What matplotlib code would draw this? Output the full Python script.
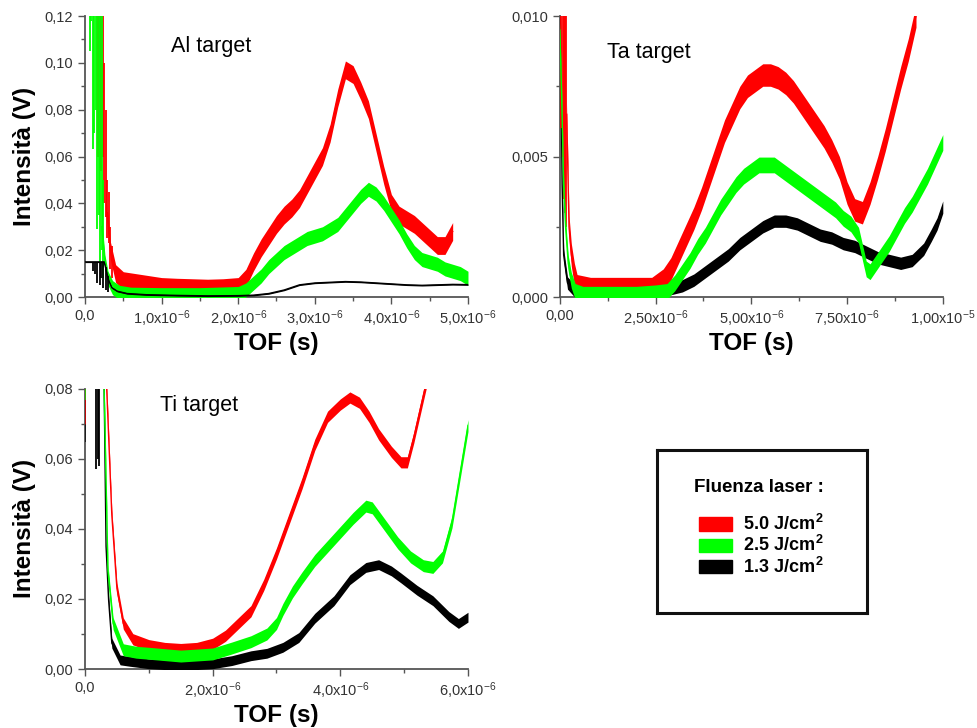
import numpy as np
import matplotlib
matplotlib.use('Agg')
from matplotlib import pyplot as plt
from matplotlib.ticker import AutoMinorLocator
from matplotlib.patches import Rectangle

plt.rcParams['font.family'] = ['Liberation Sans', 'DejaVu Sans']
plt.rcParams['mathtext.fontset'] = 'custom'
plt.rcParams['mathtext.rm'] = 'Liberation Sans'
plt.rcParams['mathtext.bf'] = 'Liberation Sans:bold'
plt.rcParams['mathtext.default'] = 'regular'

RED, GREEN, BLACK = '#ff0000', '#00ff00', '#000000'

# ---------------- Al target (x in microseconds, y in V) ----------------
al_red_x = [0.29, 0.33, 0.40, 0.50, 0.70, 1.0, 1.2, 1.4, 1.6, 1.8, 2.0, 2.1, 2.2, 2.3, 2.4, 2.5,
            2.6, 2.7, 2.8, 2.9, 3.0, 3.1, 3.2, 3.3, 3.4, 3.5, 3.6, 3.7, 3.8, 3.9, 4.0, 4.1, 4.2,
            4.3, 4.4, 4.5, 4.6, 4.7, 4.8]
al_red_y = [0.036, 0.020, 0.010, 0.007, 0.006, 0.0045, 0.0042, 0.004, 0.0038, 0.004, 0.0045, 0.008,
            0.015, 0.021, 0.026, 0.031, 0.035, 0.038, 0.042, 0.048, 0.054, 0.060, 0.070, 0.085,
            0.097, 0.095, 0.088, 0.080, 0.066, 0.052, 0.040, 0.035, 0.033, 0.031, 0.028, 0.025,
            0.022, 0.022, 0.028]
al_red_spread = 0.0038
al_red_spike_x = [0.17, 0.19, 0.21, 0.23, 0.25, 0.27, 0.29, 0.31, 0.33, 0.35]
al_red_spike_lo = [0.060, 0.055, 0.054, 0.060, 0.040, 0.034, 0.025, 0.023, 0.012, 0.008]
al_red_spike_hi = [0.13, 0.13, 0.13, 0.13, 0.10, 0.08, 0.05, 0.045, 0.03, 0.022]

al_green_x = [0.22, 0.26, 0.30, 0.36, 0.45, 0.6, 1.0, 1.5, 2.0, 2.1, 2.2, 2.3, 2.4, 2.5, 2.6, 2.7,
              2.8, 2.9, 3.0, 3.1, 3.2, 3.3, 3.4, 3.5, 3.6, 3.7, 3.8, 3.9, 4.0, 4.1, 4.2, 4.3, 4.4,
              4.5, 4.6, 4.7, 4.8, 4.9, 5.0]
al_green_y = [0.030, 0.015, 0.008, 0.004, 0.002, 0.0012, 0.001, 0.001, 0.0015, 0.003, 0.006, 0.009,
              0.013, 0.016, 0.019, 0.021, 0.023, 0.025, 0.026, 0.027, 0.029, 0.031, 0.035, 0.039,
              0.043, 0.046, 0.044, 0.040, 0.035, 0.030, 0.024, 0.019, 0.016, 0.015, 0.014, 0.012,
              0.011, 0.010, 0.008]
al_green_spread = 0.003
al_green_spike_x = [0.065, 0.08, 0.10, 0.12, 0.14, 0.16, 0.18, 0.20, 0.22, 0.24]
al_green_spike_lo = [0.105, 0.118, 0.063, 0.070, 0.080, 0.029, 0.035, 0.015, 0.020, 0.008]
al_green_spike_hi = [0.13, 0.13, 0.13, 0.13, 0.13, 0.13, 0.13, 0.13, 0.13, 0.05]

al_black_x = [0.0, 0.25, 0.28, 0.31, 0.35, 0.42, 0.55, 0.8, 1.2, 1.6, 2.0, 2.2, 2.4, 2.6, 2.8,
              3.0, 3.2, 3.4, 3.6, 3.8, 4.0, 4.2, 4.4, 4.6, 4.8, 5.0]
al_black_y = [0.015, 0.015, 0.011, 0.007, 0.004, 0.0025, 0.0015, 0.001, 0.0007, 0.0005, 0.0006,
              0.0008, 0.0015, 0.003, 0.0052, 0.006, 0.0063, 0.0066, 0.0064, 0.006, 0.0056,
              0.0052, 0.005, 0.0052, 0.0054, 0.0053]
al_black_spread = 0.0003
al_black_spike_x = [0.10, 0.13, 0.16, 0.19, 0.21, 0.24, 0.27, 0.30]
al_black_spike_lo = [0.011, 0.010, 0.006, 0.005, 0.008, 0.004, 0.003, 0.002]
al_black_spike_hi = [0.015, 0.015, 0.015, 0.015, 0.015, 0.015, 0.013, 0.009]

# ---------------- Ta target ----------------
ta_red_x = [0.18, 0.24, 0.30, 0.38, 0.45, 0.8, 1.2, 1.6, 2.0, 2.4, 2.7, 2.9, 3.1, 3.3, 3.5, 3.7,
            3.9, 4.1, 4.3, 4.5, 4.7, 4.9, 5.1, 5.3, 5.5, 5.7, 5.9, 6.1, 6.3, 6.5, 6.7, 6.9, 7.1,
            7.3, 7.5, 7.7, 7.9, 8.1, 8.3, 8.5, 8.7, 8.9, 9.1, 9.3]
ta_red_y = [0.0065, 0.0025, 0.0015, 0.0008, 0.0004, 0.0003, 0.0003, 0.0003, 0.0003, 0.0003,
            0.0006, 0.001, 0.0016, 0.0022, 0.0028, 0.0035, 0.0043, 0.0051, 0.0059, 0.0065,
            0.0071, 0.0075, 0.0077, 0.0079, 0.0079, 0.0078, 0.0076, 0.0073, 0.0069, 0.0065,
            0.0061, 0.0057, 0.0052, 0.0046, 0.0037, 0.0031, 0.0030, 0.0037, 0.0046, 0.0056,
            0.0067, 0.0078, 0.0088, 0.0100]
ta_red_spread = 0.0004
ta_red_spike_x = [0.04, 0.07, 0.10, 0.13, 0.16]
ta_red_spike_lo = [0.006, 0.005, 0.0035, 0.003, 0.0025]
ta_red_spike_hi = [0.011, 0.011, 0.011, 0.011, 0.011]

ta_green_x = [0.0, 0.05, 0.10, 0.15, 0.22, 0.3, 0.4, 0.6, 1.0, 1.5, 2.0, 2.5, 2.8, 3.0, 3.2, 3.4,
              3.6, 3.8, 4.0, 4.2, 4.4, 4.6, 4.8, 5.0, 5.2, 5.4, 5.6, 5.8, 6.0, 6.2, 6.4, 6.6,
              6.8, 7.0, 7.2, 7.4, 7.6, 7.8, 7.9, 8.0, 8.1, 8.2, 8.4, 8.6, 8.8, 9.0, 9.2, 9.4,
              9.6, 9.8, 10.0]
ta_green_y = [0.0095, 0.007, 0.004, 0.0025, 0.0012, 0.0006, 0.0002, 0.0001, 0.0001, 0.0001,
              0.0001, 0.00015, 0.0002, 0.0005, 0.0009, 0.0013, 0.0018, 0.0022, 0.0027, 0.0032,
              0.0036, 0.0040, 0.0043, 0.0045, 0.0047, 0.0047, 0.0047, 0.0045, 0.0043, 0.0041,
              0.0039, 0.0037, 0.0035, 0.0033, 0.0031, 0.0028, 0.0026, 0.0022, 0.0016, 0.0010,
              0.0009, 0.0011, 0.0015, 0.0019, 0.0024, 0.0029, 0.0033, 0.0038, 0.0043, 0.0049,
              0.0055]
ta_green_spread = 0.00028

ta_black_x = [0.0, 0.03, 0.06, 0.1, 0.2, 0.4, 0.8, 1.5, 2.0, 2.5, 2.9, 3.2, 3.5, 3.8, 4.1, 4.4,
              4.7, 5.0, 5.3, 5.6, 5.9, 6.2, 6.5, 6.8, 7.1, 7.4, 7.7, 8.0, 8.3, 8.6, 8.9, 9.2,
              9.5, 9.7, 9.85, 10.0]
ta_black_y = [0.012, 0.008, 0.004, 0.0015, 0.0005, 0.0002, 0.0002, 0.0002, 0.0002, 0.0002,
              0.0003, 0.0004, 0.0006, 0.0009, 0.0012, 0.0015, 0.0019, 0.0022, 0.0025, 0.0027,
              0.0027, 0.0026, 0.0024, 0.0022, 0.0021, 0.0019, 0.0018, 0.0016, 0.0014, 0.0013,
              0.0012, 0.0013, 0.0017, 0.0022, 0.0026, 0.0032]
ta_black_spread = 0.00022

# ---------------- Ti target ----------------
ti_red_x = [0.0, 0.005, 0.30, 0.34, 0.42, 0.50, 0.60, 0.75, 1.0, 1.25, 1.5, 1.75, 2.0, 2.2, 2.4,
            2.6, 2.8, 3.0, 3.2, 3.4, 3.6, 3.8, 4.0, 4.15, 4.3, 4.45, 4.6, 4.8, 4.95, 5.05, 5.15,
            5.25, 5.35]
ti_red_y = [0.070, 0.15, 0.15, 0.080, 0.044, 0.023, 0.013, 0.0085, 0.0068, 0.006, 0.0057, 0.006,
            0.0072, 0.0095, 0.013, 0.0165, 0.024, 0.033, 0.043, 0.053, 0.064, 0.072, 0.0755,
            0.0775, 0.076, 0.072, 0.067, 0.062, 0.059, 0.059, 0.066, 0.074, 0.082]
ti_red_spread = 0.0016

ti_green_x = [0.0, 0.005, 0.27, 0.30, 0.36, 0.44, 0.6, 0.8, 1.0, 1.5, 2.0, 2.3, 2.6, 2.85, 3.0,
              3.1, 3.25, 3.4, 3.6, 3.8, 4.0, 4.2, 4.4, 4.5, 4.7, 4.9, 5.1, 5.3, 5.45, 5.6, 5.75,
              5.85, 5.95, 6.0]
ti_green_y = [0.077, 0.15, 0.15, 0.080, 0.028, 0.013, 0.0055, 0.0048, 0.0045, 0.0037, 0.0043,
              0.006, 0.0078, 0.010, 0.013, 0.017, 0.022, 0.026, 0.031, 0.035, 0.039, 0.043,
              0.0465, 0.046, 0.041, 0.036, 0.032, 0.0295, 0.029, 0.032, 0.042, 0.053, 0.064,
              0.0695]
ti_green_spread = 0.0017

ti_black_x = [0.0, 0.005, 0.27, 0.30, 0.33, 0.37, 0.42, 0.55, 0.7, 1.0, 1.5, 2.0, 2.3, 2.6,
              2.85, 3.1, 3.35, 3.6, 3.9, 4.15, 4.4, 4.6, 4.8, 4.95, 5.2, 5.45, 5.7, 5.85, 6.0]
ti_black_y = [0.065, 0.15, 0.15, 0.080, 0.035, 0.0197, 0.0074, 0.0026, 0.0022, 0.0015, 0.001,
              0.0015, 0.0024, 0.0038, 0.0045, 0.0062, 0.009, 0.0145, 0.0195, 0.0255, 0.029,
              0.0298, 0.028, 0.026, 0.0225, 0.0195, 0.015, 0.013, 0.0148]
ti_black_spread = 0.0014
ti_black_spike_x = [0.18, 0.20, 0.22]
ti_black_spike_lo = [0.057, 0.060, 0.058]
ti_black_spike_hi = [0.09, 0.09, 0.09]

# ticks / labels
al_xticks = [0, 1, 2, 3, 4, 5]
al_xticklabels = ['0,0', '1,0x10$^{-6}$', '2,0x10$^{-6}$', '3,0x10$^{-6}$', '4,0x10$^{-6}$', '5,0x10$^{-6}$']
al_yticks = [0, 0.02, 0.04, 0.06, 0.08, 0.10, 0.12]
al_yticklabels = ['0,00', '0,02', '0,04', '0,06', '0,08', '0,10', '0,12']

ta_xticks = [0, 2.5, 5, 7.5, 10]
ta_xticklabels = ['0,00', '2,50x10$^{-6}$', '5,00x10$^{-6}$', '7,50x10$^{-6}$', '1,00x10$^{-5}$']
ta_yticks = [0, 0.005, 0.010]
ta_yticklabels = ['0,000', '0,005', '0,010']

ti_xticks = [0, 2, 4, 6]
ti_xticklabels = ['0,0', '2,0x10$^{-6}$', '4,0x10$^{-6}$', '6,0x10$^{-6}$']
ti_yticks = [0, 0.02, 0.04, 0.06, 0.08]
ti_yticklabels = ['0,00', '0,02', '0,04', '0,06', '0,08']

legend_labels = [r'$\mathbf{5.0\ J/cm^2}$', r'$\mathbf{2.5\ J/cm^2}$', r'$\mathbf{1.3\ J/cm^2}$']
legend_colors = [RED, GREEN, BLACK]


def band(ax, x, y, spread, color, z):
    x = np.array(x)
    y = np.array(y)
    ax.fill_between(x, y - spread, y + spread, color=color, lw=0, zorder=z)
    ax.plot(x, y, color=color, lw=1.0, zorder=z)


def spikes(ax, x, lo, hi, color, z):
    ax.vlines(x, lo, hi, color=color, lw=1.3, zorder=z)


def style(ax, xticks, xlabels, yticks, ylabels, xmax, ymax):
    ax.set_xlim(0, xmax)
    ax.set_ylim(0, ymax)
    ax.spines['top'].set_visible(False)
    ax.spines['right'].set_visible(False)
    for s in ['left', 'bottom']:
        ax.spines[s].set_color('#555555')
        ax.spines[s].set_linewidth(1.3)
    ax.set_xticks(xticks)
    ax.set_xticklabels(xlabels)
    ax.set_yticks(yticks)
    ax.set_yticklabels(ylabels)
    ax.xaxis.set_minor_locator(AutoMinorLocator(2))
    ax.yaxis.set_minor_locator(AutoMinorLocator(2))
    ax.tick_params(which='major', direction='out', length=5, width=1, color='#555555',
                   labelsize=10.5, labelcolor='#333333')
    ax.tick_params(which='minor', direction='out', length=3, width=1, color='#555555')
    ax.set_xlabel('TOF (s)', fontsize=17.5, fontweight='bold', labelpad=2)


fig = plt.figure(figsize=(9.77, 7.28), dpi=100)
ax1 = fig.add_axes([0.087, 0.592, 0.392, 0.386])
ax2 = fig.add_axes([0.573, 0.592, 0.392, 0.386])
ax3 = fig.add_axes([0.087, 0.081, 0.392, 0.385])

# Al
band(ax1, al_red_x, al_red_y, al_red_spread, RED, 3)
spikes(ax1, al_red_spike_x, al_red_spike_lo, al_red_spike_hi, RED, 3)
band(ax1, al_green_x, al_green_y, al_green_spread, GREEN, 4)
spikes(ax1, al_green_spike_x, al_green_spike_lo, al_green_spike_hi, GREEN, 4)
band(ax1, al_black_x, al_black_y, al_black_spread, BLACK, 5)
spikes(ax1, al_black_spike_x, al_black_spike_lo, al_black_spike_hi, BLACK, 5)
style(ax1, al_xticks, al_xticklabels, al_yticks, al_yticklabels, 5, 0.12)
ax1.set_ylabel('Intensità (V)', fontsize=17.5, fontweight='bold', labelpad=6)
ax1.text(0.225, 0.89, 'Al target', transform=ax1.transAxes, fontsize=15.5, va='center')

# Ta
band(ax2, ta_black_x, ta_black_y, ta_black_spread, BLACK, 3)
band(ax2, ta_red_x, ta_red_y, ta_red_spread, RED, 4)
spikes(ax2, ta_red_spike_x, ta_red_spike_lo, ta_red_spike_hi, RED, 4)
band(ax2, ta_green_x, ta_green_y, ta_green_spread, GREEN, 5)
style(ax2, ta_xticks, ta_xticklabels, ta_yticks, ta_yticklabels, 10, 0.010)
ax2.text(0.123, 0.87, 'Ta target', transform=ax2.transAxes, fontsize=15.5, va='center')

# Ti
band(ax3, ti_black_x, ti_black_y, ti_black_spread, BLACK, 3)
spikes(ax3, ti_black_spike_x, ti_black_spike_lo, ti_black_spike_hi, BLACK, 3)
band(ax3, ti_red_x, ti_red_y, ti_red_spread, RED, 4)
band(ax3, ti_green_x, ti_green_y, ti_green_spread, GREEN, 5)
style(ax3, ti_xticks, ti_xticklabels, ti_yticks, ti_yticklabels, 6, 0.08)
ax3.set_ylabel('Intensità (V)', fontsize=17.5, fontweight='bold', labelpad=6)
ax3.text(0.196, 0.94, 'Ti target', transform=ax3.transAxes, fontsize=15.5, va='center')

# legend box
axl = fig.add_axes([657 / 977, 1 - 613 / 728, 210 / 977, 163 / 728])
axl.set_xticks([])
axl.set_yticks([])
for s in axl.spines.values():
    s.set_linewidth(2.2)
    s.set_color('#111111')
axl.text(0.486, 0.767, 'Fluenza laser :', fontsize=13.5, fontweight='bold', ha='center', va='center')
row_y = [0.546, 0.415, 0.284]
for lab, col, yy in zip(legend_labels, legend_colors, row_y):
    axl.add_patch(Rectangle((0.2, yy - 0.04), 0.157, 0.08, color=col, transform=axl.transAxes))
    axl.text(0.41, yy, lab, fontsize=13, va='center')

plt.savefig('out.png', dpi=100)
